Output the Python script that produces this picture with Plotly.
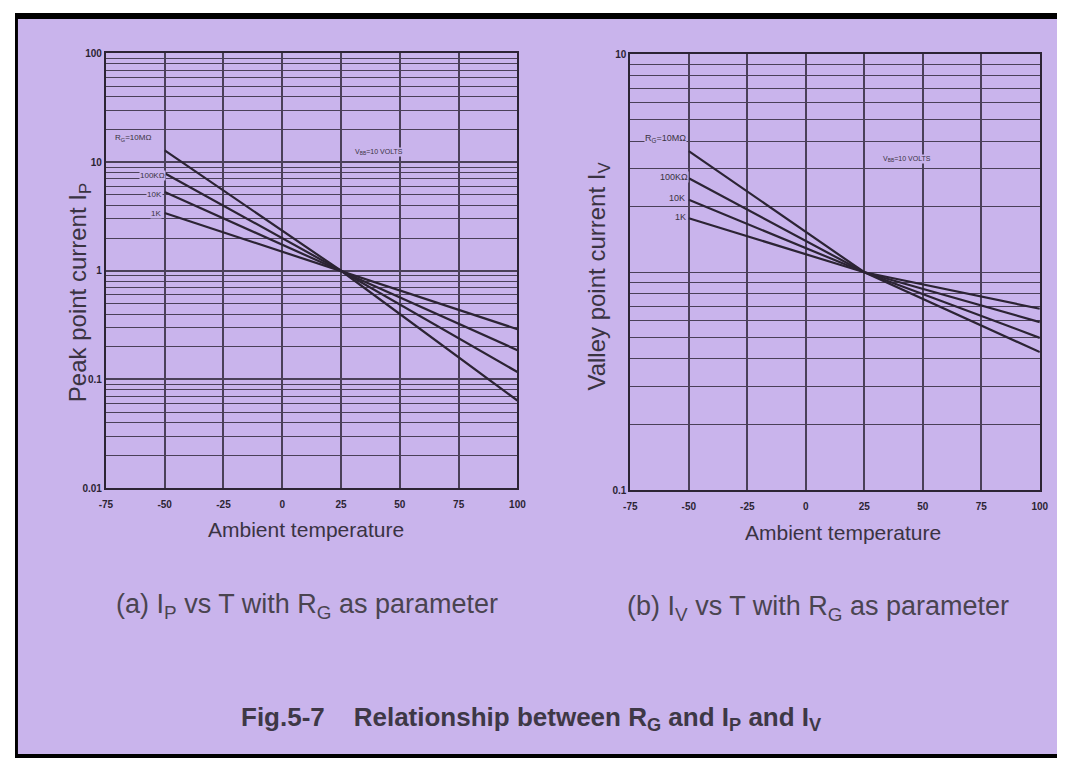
import plotly.graph_objects as go

# ---------------- data ----------------
temps = [-50, 25, 100]
rg_labels_left = ["R<sub>G</sub>=10MΩ", "100KΩ", "10K", "1K"]
rg_labels_right = ["R<sub>G</sub>=10MΩ", "100KΩ", "10K", "1K"]

ip_10M = [12.8, 1.0, 0.064]
ip_100K = [7.9, 1.0, 0.117]
ip_10K = [5.3, 1.0, 0.186]
ip_1K = [3.4, 1.0, 0.29]

iv_10M = [3.6, 1.0, 0.43]
iv_100K = [2.7, 1.0, 0.50]
iv_10K = [2.15, 1.0, 0.59]
iv_1K = [1.77, 1.0, 0.68]

x_ticks = [-75, -50, -25, 0, 25, 50, 75, 100]
left_yticks = [0.01, 0.1, 1, 10, 100]
left_yticktext = ["0.01", "0.1", "1", "10", "100"]
right_yticks = [0.1, 10]
right_yticktext = ["0.1", "10"]

# ---------------- style ----------------
W, H = 1058, 756
# empirical mapping from target-picture pixels to figure pixels
S, OX, OY = 0.986, 14.0, 12.6
BG = "#c9b4ec"
INK = "#2c2434"
GRID = "#4a4058"
TXT = "#3a3342"
FONT = "Liberation Sans, Arial"


def px(xp):
    return min(max((xp - OX) / S / W, 0), 1)


def py(yp):
    return min(max(1 - (yp - OY) / S / H, 0), 1)


def bold(labels):
    return ["<b>%s</b>" % t for t in labels]


fig = go.Figure()

left_series = [ip_10M, ip_100K, ip_10K, ip_1K]
right_series = [iv_10M, iv_100K, iv_10K, iv_1K]

for s in left_series:
    fig.add_trace(go.Scatter(x=temps, y=s, mode="lines", xaxis="x", yaxis="y",
                             line=dict(color=INK, width=2.2), showlegend=False,
                             hoverinfo="skip"))
for s in right_series:
    fig.add_trace(go.Scatter(x=temps, y=s, mode="lines", xaxis="x2", yaxis="y2",
                             line=dict(color=INK, width=2.2), showlegend=False,
                             hoverinfo="skip"))

xcommon = dict(range=[-75, 100], tickvals=x_ticks, ticktext=bold([str(v) for v in x_ticks]),
               showgrid=True, gridcolor=GRID, gridwidth=1.6, zeroline=False,
               showline=True, linecolor=INK, linewidth=2, mirror=True,
               tickfont=dict(family=FONT, size=10, color=INK), ticks="",
               ticklabelstandoff=6)
ycommon = dict(type="log", showgrid=True, gridcolor=GRID, gridwidth=2,
               zeroline=False, showline=True, linecolor=INK, linewidth=2, mirror=True,
               tickfont=dict(family=FONT, size=10, color=INK), ticks="",
               minor=dict(dtick="D1", showgrid=True, gridcolor=GRID, gridwidth=1.3))

fig.update_layout(
    width=W, height=H,
    margin=dict(l=0, r=0, t=0, b=0),
    paper_bgcolor="white",
    plot_bgcolor="rgba(0,0,0,0)",
    xaxis=dict(domain=[px(105), px(517)], anchor="y", **xcommon),
    yaxis=dict(domain=[py(488), py(53)], anchor="x", range=[-2, 2],
               tickvals=left_yticks, ticktext=bold(left_yticktext), **ycommon),
    xaxis2=dict(domain=[px(630), px(1040)], anchor="y2", **xcommon),
    yaxis2=dict(domain=[py(490), py(54)], anchor="x2", range=[-1, 1],
                tickvals=right_yticks, ticktext=bold(right_yticktext), **ycommon),
)

# background & frame
fig.add_shape(type="rect", xref="paper", yref="paper", x0=0, x1=1, y0=0, y1=1,
              fillcolor=BG, line_width=0, layer="below")
fig.add_shape(type="rect", xref="paper", yref="paper", x0=0, x1=3 / W, y0=0, y1=1,
              fillcolor="black", line_width=0, layer="below")
fig.add_shape(type="rect", xref="paper", yref="paper", x0=0, x1=1, y0=1 - 6 / H, y1=1,
              fillcolor="black", line_width=0, layer="below")
fig.add_shape(type="rect", xref="paper", yref="paper", x0=0, x1=1, y0=0, y1=4 / H,
              fillcolor="black", line_width=0, layer="below")


def note(text, x, y, size, color=TXT, angle=0, bg=None):
    d = dict(text=text, x=px(x), y=py(y), xref="paper", yref="paper",
             xanchor="center", yanchor="middle", showarrow=False, textangle=angle,
             font=dict(family=FONT, size=size, color=color))
    if bg:
        d["bgcolor"] = bg
        d["borderpad"] = 0
    return d


ann = []
left_label_pos = [(132, 138), (152, 175), (154, 194), (155, 213)]
for lab, (xx, yy) in zip(rg_labels_left, left_label_pos):
    ann.append(note(lab, xx, yy, 8, bg=BG))
right_label_pos = [(665, 138), (674, 177), (677, 198), (680, 217)]
for lab, (xx, yy) in zip(rg_labels_right, right_label_pos):
    ann.append(note(lab, xx, yy, 9, bg=BG))
ann.append(note("V<sub>BB</sub>=10 VOLTS", 378, 152, 7, bg=BG))
ann.append(note("V<sub>BB</sub>=10 VOLTS", 907, 159, 7, bg=BG))

# axis titles
ann.append(note("Peak point current I<sub>P</sub>", 78, 292, 24, angle=-90))
ann.append(note("Valley point current I<sub>V</sub>", 598, 276, 24, angle=-90))
ann.append(note("Ambient temperature", 305, 529, 21))
ann.append(note("Ambient temperature", 843, 532, 21))

# sub captions and figure title
ann.append(note("(a) I<sub>P</sub> vs T with R<sub>G</sub> as parameter", 306, 606, 27,
                color="#4a4450"))
ann.append(note("(b) I<sub>V</sub> vs T with R<sub>G</sub> as parameter", 818, 608, 27,
                color="#4a4450"))
ann.append(note("<b>Fig.5-7    Relationship between R<sub>G</sub> and I<sub>P</sub> and I<sub>V</sub></b>",
                531, 718, 26, color="#3e3846"))

fig.update_layout(annotations=ann)
fig.write_html("out.html")
